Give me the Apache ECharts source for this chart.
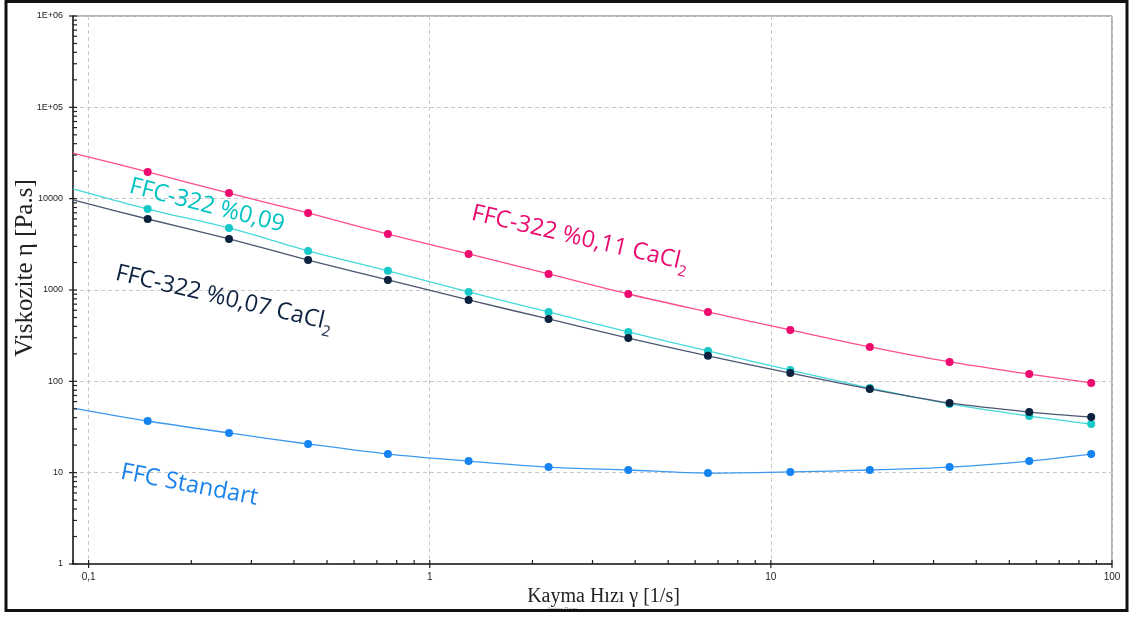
<!DOCTYPE html>
<html>
<head>
<meta charset="utf-8">
<script src="https://cdn.jsdelivr.net/npm/echarts@6/dist/echarts.min.js"></script>
<style>
  html, body { margin: 0; padding: 0; background: #fff; }
  #chart { width: 1130px; height: 617px; }
</style>
</head>
<body>
<div id="chart"></div>
<script>
// shear rate [1/s]
var shearRate = [0.149, 0.258, 0.44, 0.754, 1.3, 2.23, 3.82, 6.54, 11.4, 19.5, 33.4, 57.2, 86.9]
// fitted curves start at the left edge of the axis
var fitStartX = 0.09

// viscosity [Pa.s]
var ffc011 = [19600, 11500, 6970, 4100, 2480, 1500, 904, 575, 365, 238, 163, 120, 96]
var ffc011Start = 31600
var ffc009 = [7700, 4780, 2680, 1620, 951, 575, 347, 215, 133, 84.6, 56.5, 41.7, 34.1]
var ffc009Start = 12800
var ffc007 = [5990, 3620, 2130, 1290, 778, 482, 298, 190, 123, 82.4, 58, 46.1, 40.7]
var ffc007Start = 9680
var ffcStd = [36.8, 27.2, 20.6, 16.0, 13.4, 11.5, 10.7, 9.9, 10.2, 10.7, 11.5, 13.4, 16.0]
var ffcStdStart = 51

var xTickLabels = { '0.1': '0,1', '1': '1', '10': '10', '100': '100' }
var yTickLabels = { '1': '1', '10': '10', '100': '100', '1000': '1000', '10000': '10000', '100000': '1E+05', '1000000': '1E+06' }

function buildData (vals, start) {
  var out = [{ value: [fitStartX, start], symbol: 'none' }]
  for (var i = 0; i < vals.length; i++) out.push([shearRate[i], vals[i]])
  return out
}

function makeSeries (name, vals, start, lineColor, dotColor) {
  return {
    name: name,
    type: 'line',
    data: buildData(vals, start),
    smooth: 0.3,
    symbol: 'circle',
    symbolSize: 8,
    showSymbol: true,
    lineStyle: { color: lineColor, width: 1.3 },
    itemStyle: { color: dotColor },
    animation: false,
    z: 3
  }
}

var myChart = echarts.init(document.getElementById('chart'))

var option = {
  backgroundColor: '#fff',
  animation: false,
  grid: {
    left: 73, right: 18, top: 16, bottom: 53,
    outerBoundsMode: 'none',
    containLabel: false,
    show: true, borderColor: '#666', borderWidth: 1
  },
  xAxis: {
    type: 'log',
    min: fitStartX,
    max: 100,
    splitNumber: 3,
    axisLine: { show: true, lineStyle: { color: '#222', width: 1.5 } },
    axisTick: { show: false },
    axisLabel: {
      fontFamily: 'Liberation Sans',
      fontSize: 10,
      color: '#222',
      margin: 8,
      formatter: function (v) {
        var k = String(+v.toPrecision(6))
        return xTickLabels[k] || ''
      }
    },
    splitLine: { show: true, lineStyle: { color: '#c8c8c8', type: [4, 3], width: 1 } },
    name: 'Kayma Hızı γ [1/s]',
    nameLocation: 'middle',
    nameGap: 16,
    nameTextStyle: { fontFamily: 'Liberation Serif', fontSize: 20, color: '#222', padding: [0, 0, 0, 22] }
  },
  yAxis: {
    type: 'log',
    min: 1,
    max: 1000000,
    splitNumber: 6,
    axisLine: { show: true, lineStyle: { color: '#222', width: 1.5 } },
    axisTick: { show: false },
    axisLabel: {
      fontFamily: 'Liberation Sans',
      fontSize: 9,
      color: '#222',
      margin: 10,
      formatter: function (v) {
        var k = String(Math.round(v))
        return yTickLabels[k] || ''
      }
    },
    splitLine: { show: true, lineStyle: { color: '#c8c8c8', type: [4, 3], width: 1 } }
  },
  series: [
    makeSeries('FFC-322 %0,11 CaCl2', ffc011, ffc011Start, '#ff4c91', '#ee0a6e'),
    makeSeries('FFC-322 %0,09', ffc009, ffc009Start, '#45d9d9', '#17c8c8'),
    makeSeries('FFC-322 %0,07 CaCl2', ffc007, ffc007Start, '#4c5672', '#0c223f'),
    makeSeries('FFC Standart', ffcStd, ffcStdStart, '#3e98f0', '#1683f2')
  ]
}
myChart.setOption(option)

// log-spaced ticks drawn through the axis scales
var ticks = []
var left = myChart.convertToPixel({ xAxisIndex: 0 }, fitStartX)
var bottom = myChart.convertToPixel({ yAxisIndex: 0 }, 1)
var tickStyle = { stroke: '#222', lineWidth: 1.2 }
for (var d = -2; d <= 1; d++) {
  for (var k = 1; k <= 9; k++) {
    var xv = k * Math.pow(10, d)
    if (xv < fitStartX - 1e-9 || xv > 100) continue
    var px = myChart.convertToPixel({ xAxisIndex: 0 }, xv)
    var major = k === 1
    ticks.push({ type: 'line', silent: true, z: 10, shape: { x1: px, y1: major ? bottom + 4 : bottom, x2: px, y2: bottom - 4 }, style: tickStyle })
  }
}
var px100 = myChart.convertToPixel({ xAxisIndex: 0 }, 100)
ticks.push({ type: 'line', silent: true, z: 10, shape: { x1: px100, y1: bottom + 4, x2: px100, y2: bottom - 4 }, style: tickStyle })
for (var e = 0; e <= 5; e++) {
  for (var j = 1; j <= 9; j++) {
    var yv = j * Math.pow(10, e)
    var py = myChart.convertToPixel({ yAxisIndex: 0 }, yv)
    var maj = j === 1
    ticks.push({ type: 'line', silent: true, z: 10, shape: { x1: maj ? left - 4 : left, y1: py, x2: left + 4, y2: py }, style: tickStyle })
  }
}
var topY = myChart.convertToPixel({ yAxisIndex: 0 }, 1000000)
ticks.push({ type: 'line', silent: true, z: 10, shape: { x1: left - 4, y1: topY, x2: left + 4, y2: topY }, style: tickStyle })

// series annotations
var labelFont = '"Open Sans", "Noto Sans", sans-serif'
function note (x, y, rot, color, main, sub) {
  var txt = '{m|' + main + '}' + (sub ? '{s|' + sub + '}' : '')
  return {
    type: 'text', x: x, y: y, rotation: rot, silent: true, z: 20,
    style: {
      text: txt,
      fill: color,
      textVerticalAlign: 'middle',
      rich: {
        m: { fontFamily: labelFont, fontSize: 23.5, fill: color, lineHeight: 30 },
        s: { fontFamily: labelFont, fontSize: 15, fill: color, padding: [19, 0, 0, 0], lineHeight: 30 }
      }
    }
  }
}

var graphics = ticks.concat([
  note(130, 186, -0.25, '#00c2c2', 'FFC-322 %0,09'),
  note(472, 213, -0.23, '#ea0a6e', 'FFC-322 %0,11 CaCl', '2'),
  note(116, 273, -0.23, '#0c223f', 'FFC-322 %0,07 CaCl', '2'),
  note(121, 472, -0.19, '#1a82ea', 'FFC Standart'),
  {
    // y axis title
    type: 'text', x: 25, y: 268, rotation: Math.PI / 2, silent: true, z: 20,
    style: { text: 'Viskozite η [Pa.s]', fontFamily: 'Liberation Serif', fontSize: 25, fill: '#222', textAlign: 'center', textVerticalAlign: 'middle' }
  },
  {
    type: 'text', x: 562, y: 609, silent: true,
    style: { text: 'Anton Paar', fontSize: 6, fill: '#888', fontFamily: 'Liberation Sans', textAlign: 'center', textVerticalAlign: 'middle' }
  },
  {
    type: 'rect', silent: true, z: 30,
    shape: { x: 6, y: 1.5, width: 1121, height: 609 },
    style: { fill: 'none', stroke: '#111', lineWidth: 3 }
  }
])

myChart.setOption({ graphic: graphics })
</script>
</body>
</html>
